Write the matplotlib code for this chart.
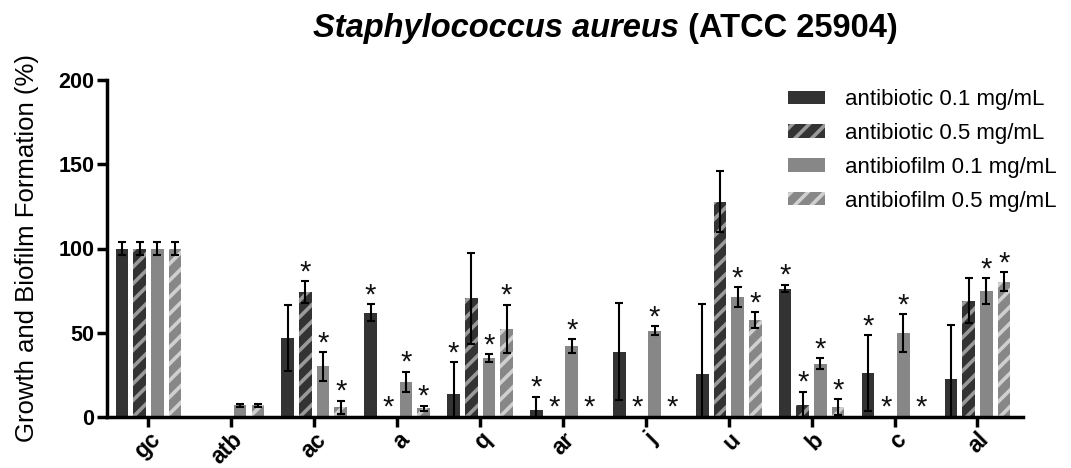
import matplotlib
matplotlib.use("Agg")
import matplotlib.pyplot as plt
import matplotlib.transforms as mtransforms
import numpy as np

categories = ["gc", "atb", "ac", "a", "q", "ar", "j", "u", "b", "c", "al"]
series_names = ["antibiotic 0.1 mg/mL", "antibiotic 0.5 mg/mL",
                "antibiofilm 0.1 mg/mL", "antibiofilm 0.5 mg/mL"]

abx_01 = [100, 0, 47, 62, 13.5, 4.4, 38.8, 25.3, 76.2, 26, 22.6]
abx_01_err = [4, 0, 19.5, 5, 19, 7.6, 28.7, 41.5, 2.3, 22.5, 32]
abx_01_star = [0, 0, 0, 1, 1, 1, 0, 0, 1, 1, 0]

abx_05 = [100, 0, 74, 0, 70.4, 0, 0, 127.8, 7.1, 0, 69]
abx_05_err = [4, 0, 6.5, 0, 27, 0, 0, 18, 8, 0, 13.3]
abx_05_star = [0, 0, 1, 1, 0, 1, 1, 0, 1, 1, 0]

bf_01 = [100, 7, 30, 21, 34.8, 42.1, 51.2, 71, 31.5, 49.7, 74.8]
bf_01_err = [4, 1, 8.5, 6, 2.4, 4, 2.8, 6, 3.3, 11.3, 7.5]
bf_01_star = [0, 0, 1, 1, 1, 1, 1, 1, 1, 1, 1]

bf_05 = [100, 7, 5.7, 5.1, 52.2, 0.5, 0.3, 57.6, 5.7, 0.5, 80.3]
bf_05_err = [4, 1, 4, 1.6, 14.3, 0, 0, 4.5, 4.8, 0, 5.7]
bf_05_star = [0, 0, 1, 1, 1, 1, 1, 1, 1, 1, 1]

values = [abx_01, abx_05, bf_01, bf_05]
errors = [abx_01_err, abx_05_err, bf_01_err, bf_05_err]
stars = [abx_01_star, abx_05_star, bf_01_star, bf_05_star]

face_colors = ["#333333", "#333333", "#878787", "#878787"]
hatch_colors = ["#333333", "#9a9a9a", "#878787", "#d0d0d0"]
hatches = [None, "//", None, "//"]

plt.rcParams["font.family"] = ["Liberation Sans", "DejaVu Sans"]
plt.rcParams["hatch.linewidth"] = 2.6

W, H = 1071, 468
fig = plt.figure(figsize=(W / 100, H / 100), dpi=100)
ax = fig.add_axes([107 / W, 1 - 417 / H, (1023 - 107) / W, (417 - 80) / H])

x = np.arange(len(categories))
step = 0.213
width = 0.152
for i in range(4):
    pos = x + (i - 1.5) * step
    ax.bar(pos, values[i], width, color=face_colors[i], edgecolor=hatch_colors[i],
           linewidth=0, hatch=hatches[i], label=series_names[i], zorder=2)
    errs = np.array(errors[i])
    vals = np.array(values[i])
    mask = errs > 0
    ax.errorbar(pos[mask], vals[mask], yerr=errs[mask], fmt="none", ecolor="black",
                elinewidth=1.5, capsize=3, capthick=1.5, zorder=3)
    for p, v, e, s in zip(pos, vals, errs, stars[i]):
        if s:
            ax.text(p, v + e - 3.0, "*", ha="center", va="bottom", fontsize=21,
                    color="#111111", zorder=4)

ax.set_xlim(-0.5, 10.55)
ax.set_ylim(0, 200)
ax.set_yticks([0, 50, 100, 150, 200])
ax.set_xticks(x)
ax.set_xticklabels(categories, rotation=45, ha="right", va="top",
                   rotation_mode="anchor", fontsize=16.5, fontweight="bold")
shift = mtransforms.ScaledTranslation(-0.02, 0.05, fig.dpi_scale_trans)
for lab in ax.get_xticklabels():
    lab.set_transform(lab.get_transform() + shift)
for lab in ax.get_yticklabels():
    lab.set_fontsize(15.5)
    lab.set_fontweight("bold")
ax.spines["top"].set_visible(False)
ax.spines["right"].set_visible(False)
ax.spines["left"].set_linewidth(2.5)
ax.spines["bottom"].set_linewidth(2.5)
ax.tick_params(axis="both", direction="out", width=2.5, length=7)
ax.tick_params(axis="x", pad=1)
ax.tick_params(axis="y", pad=2)
ax.set_ylabel("Growth and Biofilm Formation (%)", fontsize=18.5, labelpad=14)

leg = fig.legend(*ax.get_legend_handles_labels(), loc="upper left",
                 bbox_to_anchor=(788 / W, 1 - 89 / H), frameon=False,
                 fontsize=16, handlelength=1.67, handleheight=0.54,
                 labelspacing=0.58, handletextpad=0.9, borderpad=0,
                 borderaxespad=0)

# title in two parts
fig.canvas.draw()
r = fig.canvas.get_renderer()
t1 = fig.text(0, 0, "Staphylococcus aureus", fontsize=23.5, fontweight="bold",
              fontstyle="italic", va="baseline")
t2 = fig.text(0, 0, " (ATCC 25904)", fontsize=23.5, fontweight="bold",
              va="baseline")
w1 = t1.get_window_extent(r).width
w2 = t2.get_window_extent(r).width
cx = 605
base_y = H - 37
start = cx - (w1 + w2) / 2
t1.set_position((start / W, base_y / H))
t2.set_position(((start + w1) / W, base_y / H))

fig.savefig("out.png", dpi=100)
